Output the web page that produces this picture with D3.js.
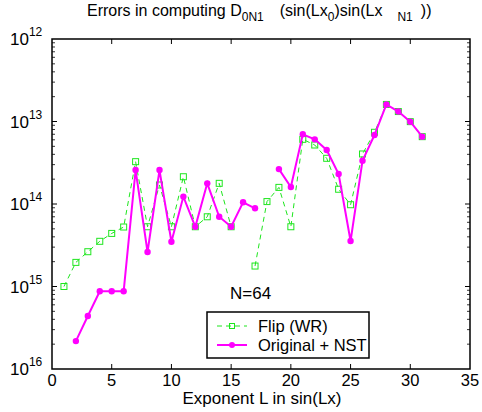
<!DOCTYPE html>
<html>
<head>
<meta charset="utf-8">
<script src="https://cdn.jsdelivr.net/npm/d3@7"></script>
<style>
  body { margin: 0; background: #fff; }
  text { font-family: "Liberation Sans", Arial, sans-serif; fill: #000; white-space: pre; }
</style>
</head>
<body>
<div id="chart"></div>
<script>
// values (errors, plotted on a log axis)
var expL = d3.range(1, 32);
var flipErr = [1.0e-15, 1.96e-15, 2.64e-15, 3.53e-15, 4.4e-15, 5.26e-15, 3.26e-14, 5.3e-15,
               1.7e-14, 5.3e-15, 2.14e-14, 5.3e-15, 7.0e-15, 1.78e-14, 5.3e-15, null,
               1.77e-15, 1.07e-14, 1.59e-14, 5.3e-15, 6.08e-14, 5.19e-14, 3.58e-14, 1.51e-14,
               9.8e-15, 4.04e-14, 7.4e-14, 1.61e-13, 1.32e-13, 9.96e-14, 6.55e-14];
var origErr = [null, 2.18e-16, 4.39e-16, 8.75e-16, 8.75e-16, 8.75e-16, 2.58e-14, 2.62e-15,
               2.58e-14, 3.49e-15, 1.23e-14, 5.3e-15, 1.78e-14, 7.0e-15, 5.3e-15, 1.05e-14,
               8.87e-15, null, 2.65e-14, 1.61e-14, 7.0e-14, 6.08e-14, 4.52e-14, 2.31e-14,
               3.56e-15, 3.35e-14, 6.86e-14, 1.61e-13, 1.32e-13, 9.96e-14, 6.55e-14];
var xTicks = [0, 5, 10, 15, 20, 25, 30, 35];
var yDecades = [1e-12, 1e-13, 1e-14, 1e-15, 1e-16];
var seriesNames = ["Flip (WR)", "Original + NST"];

var W = 482, H = 412;
var pLeft = 52, pRight = 470, pTop = 39, pBottom = 369;
var green = "#1ee61e", magenta = "#ff00ff";

var svg = d3.select("#chart").append("svg")
    .attr("width", W)
    .attr("height", H);

var x = d3.scaleLinear().domain([0, 35]).range([pLeft, pRight]);
var y = d3.scaleLog().domain([1e-16, 1e-12]).range([pBottom, pTop]);

// title with subscripts (the odd gaps are in the original)
var title = svg.append("text")
    .attr("x", 87).attr("y", 16)
    .style("font-size", "16px");
title.append("tspan").text("Errors in computing D");
title.append("tspan").attr("dy", 5).style("font-size", "12px").text("0N1");
title.append("tspan").attr("dy", -5).attr("dx", 16).text("(sin(Lx");
title.append("tspan").attr("dy", 5).style("font-size", "12px").text("0");
title.append("tspan").attr("dy", -5).text(")sin(Lx");
title.append("tspan").attr("dy", 5).attr("dx", 15).style("font-size", "12px").text("N1");
title.append("tspan").attr("dy", -5).attr("dx", 8).text("))");

// box
svg.append("rect")
    .attr("x", pLeft).attr("y", pTop)
    .attr("width", pRight - pLeft).attr("height", pBottom - pTop)
    .attr("fill", "none").attr("stroke", "#000").attr("stroke-width", 1.5);

// x ticks, inward top and bottom
var gx = svg.append("g");
gx.selectAll(null).data(xTicks.slice(1, -1)).enter().append("line")
    .attr("x1", x).attr("x2", x).attr("y1", pBottom).attr("y2", pBottom - 5)
    .attr("stroke", "#000");
gx.selectAll(null).data(xTicks.slice(1, -1)).enter().append("line")
    .attr("x1", x).attr("x2", x).attr("y1", pTop).attr("y2", pTop + 5)
    .attr("stroke", "#000");
gx.selectAll("text").data(xTicks).enter().append("text")
    .attr("x", x).attr("y", 386)
    .attr("text-anchor", "middle")
    .style("font-size", "16.5px")
    .text(function(d) { return d; });

svg.append("text")
    .attr("x", 262).attr("y", 404)
    .attr("text-anchor", "middle")
    .style("font-size", "17px")
    .text("Exponent L in sin(Lx)");

// y ticks: decades and minors, inward on both sides
var minor = y.ticks().filter(function(v) {
  var m = Math.round(v / Math.pow(10, Math.floor(Math.log10(v) + 1e-9)));
  return m !== 1;
});
var gy = svg.append("g");
[pLeft, pRight].forEach(function(x0) {
  var dir = x0 === pLeft ? 1 : -1;
  gy.selectAll(null).data(yDecades.slice(1, -1)).enter().append("line")
      .attr("x1", x0).attr("x2", x0 + dir * 5)
      .attr("y1", y).attr("y2", y)
      .attr("stroke", "#000");
  gy.selectAll(null).data(minor).enter().append("line")
      .attr("x1", x0).attr("x2", x0 + dir * 3)
      .attr("y1", y).attr("y2", y)
      .attr("stroke", "#000").attr("stroke-width", 0.8);
});
var yl = gy.selectAll("text").data(yDecades).enter().append("text")
    .attr("x", 10).attr("y", function(d) { return y(d) + 6; })
    .style("font-size", "17px");
yl.append("tspan").text("10");
yl.append("tspan").attr("dy", -9).style("font-size", "12px")
    .text(function(d) { return Math.round(-Math.log10(d)); });

// series
var flip = expL.map(function(l, i) { return {l: l, v: flipErr[i]}; });
var orig = expL.map(function(l, i) { return {l: l, v: origErr[i]}; });

var line = d3.line()
    .defined(function(d) { return d.v != null; })
    .x(function(d) { return x(d.l); })
    .y(function(d) { return y(d.v); });

svg.append("path")
    .attr("d", line(flip))
    .attr("fill", "none").attr("stroke", green)
    .attr("stroke-width", 1).attr("stroke-dasharray", "5,4");
svg.selectAll("rect.flip").data(flip.filter(function(d) { return d.v != null; }))
  .enter().append("rect")
    .attr("class", "flip")
    .attr("x", function(d) { return x(d.l) - 3; })
    .attr("y", function(d) { return y(d.v) - 3; })
    .attr("width", 6).attr("height", 6)
    .attr("fill", "none").attr("stroke", green);

svg.append("path")
    .attr("d", line(orig))
    .attr("fill", "none").attr("stroke", magenta)
    .attr("stroke-width", 2);
svg.selectAll("circle.orig").data(orig.filter(function(d) { return d.v != null; }))
  .enter().append("circle")
    .attr("class", "orig")
    .attr("cx", function(d) { return x(d.l); })
    .attr("cy", function(d) { return y(d.v); })
    .attr("r", 3.2)
    .attr("fill", magenta);

// annotation
svg.append("text")
    .attr("x", 230).attr("y", 299)
    .style("font-size", "17px")
    .text("N=64");

// legend
var lg = svg.append("g");
lg.append("rect")
    .attr("x", 207).attr("y", 312).attr("width", 162).attr("height", 46)
    .attr("fill", "#fff").attr("stroke", "#000").attr("stroke-width", 1.5);
lg.append("line").attr("x1", 217).attr("x2", 247).attr("y1", 326).attr("y2", 326)
    .attr("stroke", green).attr("stroke-dasharray", "5,4");
lg.append("rect").attr("x", 229.5).attr("y", 323.5).attr("width", 5).attr("height", 5)
    .attr("fill", "none").attr("stroke", green);
lg.append("line").attr("x1", 217).attr("x2", 247).attr("y1", 345).attr("y2", 345)
    .attr("stroke", magenta).attr("stroke-width", 2);
lg.append("circle").attr("cx", 232).attr("cy", 345).attr("r", 3)
    .attr("fill", magenta);
lg.selectAll("text").data(seriesNames).enter().append("text")
    .attr("x", 258).attr("y", function(d, i) { return 332 + i * 19; })
    .style("font-size", "16.5px")
    .text(function(d) { return d; });
</script>
</body>
</html>
